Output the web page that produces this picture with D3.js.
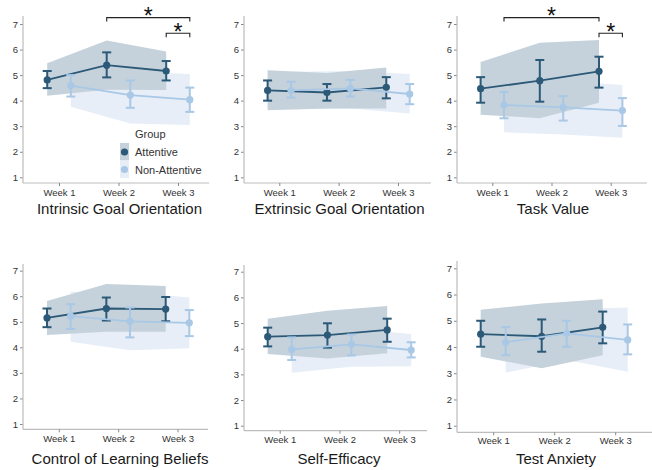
<!DOCTYPE html>
<html><head><meta charset="utf-8">
<script src="https://cdn.jsdelivr.net/npm/d3@7"></script>
<style>body{margin:0;background:#fff}svg{display:block;font-family:"Liberation Sans",Arial,sans-serif}</style>
</head><body><svg id="c" width="652" height="470"></svg>
<script>
// ---- data ----
const panelTitles = ["Intrinsic Goal Orientation","Extrinsic Goal Orientation","Task Value",
  "Control of Learning Beliefs","Self-Efficacy","Test Anxiety"];
const weeks = ["Week 1","Week 2","Week 3"];
const groups = ["Attentive","Non-Attentive"];
const yTicks = [1,2,3,4,5,6,7];

const attMean   = [[4.81,5.39,5.16],[4.40,4.32,4.52],[4.47,4.78,5.15],[5.15,5.52,5.50],[4.47,4.53,4.73],[4.49,4.41,4.75]];
const attErrLo  = [[4.49,4.91,4.79],[4.00,4.00,4.09],[3.92,3.96,4.51],[4.79,5.05,5.02],[4.09,4.04,4.27],[4.01,3.82,4.14]];
const attErrHi  = [[5.16,5.89,5.55],[4.79,4.65,4.92],[4.92,5.59,5.72],[5.52,5.95,5.97],[4.82,4.99,5.17],[5.00,5.05,5.35]];
const attBandLo = [[4.19,4.43,4.42],[3.62,3.69,3.69],[3.45,3.31,3.92],[4.48,4.61,4.61],[3.79,3.62,3.82],[3.63,3.19,3.69]];
const attBandHi = [[5.46,6.35,5.92],[5.19,5.08,5.30],[5.51,6.27,6.37],[5.81,6.48,6.40],[5.17,5.48,5.66],[5.42,5.66,5.82]];

const nonMean   = [[4.59,4.22,4.04],[4.40,4.48,4.26],[3.83,3.74,3.61],[5.22,5.02,4.96],[3.97,4.17,3.95],[4.18,4.52,4.27]];
const nonErrLo  = [[4.16,3.72,3.56],[4.12,4.16,3.86],[3.31,3.22,3.01],[4.72,4.39,4.44],[3.56,3.74,3.66],[3.69,4.01,3.72]];
const nonErrHi  = [[5.00,4.79,4.51],[4.74,4.81,4.65],[4.34,4.18,4.10],[5.69,5.56,5.46],[4.44,4.55,4.25],[4.76,5.00,4.86]];
const nonBandLo = [[3.76,3.11,3.05],[3.66,3.69,3.50],[2.76,2.68,2.55],[4.22,3.89,3.96],[3.06,3.30,3.32],[3.02,3.50,3.06]];
const nonBandHi = [[5.42,5.15,5.04],[5.13,5.16,5.04],[4.85,4.77,4.61],[6.18,6.15,5.95],[4.92,4.79,4.57],[5.38,5.45,5.51]];

// significance brackets: panel, [group, week] from, [group, week] to, height (data units)
const sigPanel = [0,0,2,2];
const sigFrom  = [[0,1],[0,2],[1,0],[0,2]];
const sigTo    = [[1,2],[1,2],[0,2],[1,2]];
const sigLevel = [7.25,6.64,7.25,6.64];
const sigLabel = ["*","*","*","*"];

// ---- layout ----
const layout = [
 {ax:23, axEnd:209, w1:59,    w3:178,   top:16,  bot:183,   y7:24,    y1:177.3, tx:119.5, ty:214, wy:195.5, d:11.8},
 {ax:244,axEnd:431, w1:279.3, w3:398,   top:16,  bot:183,   y7:24,    y1:177.3, tx:339.5, ty:214, wy:195.5, d:11.7},
 {ax:457,axEnd:647, w1:492.3, w3:610.7, top:16,  bot:183,   y7:24,    y1:177.3, tx:553,   ty:214, wy:195.5, d:11.7},
 {ax:23, axEnd:208, w1:58.8,  w3:177.5, top:264, bot:429.3, y7:270.7, y1:424,   tx:120,   ty:464, wy:442,   d:11.8},
 {ax:244,axEnd:427, w1:279.7, w3:399.2, top:265, bot:430.7, y7:271.7, y1:425.7, tx:339,   ty:464, wy:443,   d:12},
 {ax:457,axEnd:652, w1:493.2, w3:615.2, top:261, bot:432.3, y7:268.3, y1:425.7, tx:556,   ty:464, wy:444.5, d:12.5}
];
const darkCol = "#2b5977", lightCol = "#a9c8e6";
const darkBand = "#c5d2db", lightBand = "#e7eef8";
const axisCol = "#bdbdbd", textCol = "#333";

const svg = d3.select("#c");

layout.forEach((L, p) => {
  const g = svg.append("g");
  const x = d3.scaleLinear().domain([0,2]).range([L.w1, L.w3]);
  const y = d3.scaleLinear().domain([1,7]).range([L.y1, L.y7]);
  const off = [-L.d, L.d];
  const xs = gi => (w => x(w) + off[gi]);

  const series = [
    {mean:attMean[p], lo:attErrLo[p], hi:attErrHi[p], bl:attBandLo[p], bh:attBandHi[p], col:darkCol, band:darkBand},
    {mean:nonMean[p], lo:nonErrLo[p], hi:nonErrHi[p], bl:nonBandLo[p], bh:nonBandHi[p], col:lightCol, band:lightBand}
  ];

  // ribbons: light first, dark on top
  [1,0].forEach(gi => {
    const s = series[gi];
    const area = d3.area().x((d,i)=>xs(gi)(i)).y0((d,i)=>y(s.bl[i])).y1((d,i)=>y(s.bh[i]));
    g.append("path").attr("d", area(weeks)).attr("fill", s.band);
  });

  // axes
  const yAxis = d3.axisLeft(y).tickValues(yTicks).tickFormat(d3.format("d")).tickSize(3).tickPadding(2);
  const ya = g.append("g").attr("transform",`translate(${L.ax},0)`).call(yAxis);
  ya.select(".domain").remove();
  ya.selectAll("line").attr("stroke", "#888");
  ya.selectAll("text").attr("fill", textCol).style("font-size","9.5px").style("font-family","'Liberation Sans',Arial,sans-serif");
  g.append("line").attr("x1",L.ax).attr("x2",L.ax).attr("y1",L.top).attr("y2",L.bot).attr("stroke",axisCol).attr("stroke-width",1.2);
  g.append("line").attr("x1",L.ax).attr("x2",L.axEnd).attr("y1",L.bot).attr("y2",L.bot).attr("stroke",axisCol).attr("stroke-width",1.2);
  const xAxis = d3.axisBottom(x).tickValues([0,1,2]).tickFormat(i=>weeks[i]).tickSize(3).tickPadding(2);
  const xa = g.append("g").attr("transform",`translate(0,${L.bot})`).call(xAxis);
  xa.select(".domain").remove();
  xa.selectAll("line").attr("stroke", "#888");
  xa.selectAll("text").attr("fill", textCol).attr("dy",null).attr("y", L.wy - L.bot)
    .style("font-size","9.5px").style("font-family","'Liberation Sans',Arial,sans-serif");

  // title
  g.append("text").attr("x",L.tx).attr("y",L.ty).attr("text-anchor","middle")
    .attr("fill","#1a1a1a").style("font-size","15px").text(panelTitles[p]);

  // lines, error bars, points
  [0,1].forEach(gi => {
    const s = series[gi];
    const line = d3.line().x((d,i)=>xs(gi)(i)).y((d,i)=>y(s.mean[i]));
    g.append("path").attr("d", line(weeks)).attr("fill","none").attr("stroke", s.col).attr("stroke-width",1.8);
    weeks.forEach((w,i) => {
      const cx = xs(gi)(i);
      g.append("line").attr("x1",cx).attr("x2",cx).attr("y1",y(s.lo[i])).attr("y2",y(s.hi[i])).attr("stroke",s.col).attr("stroke-width",2);
      [s.lo[i], s.hi[i]].forEach(v => g.append("line").attr("x1",cx-4.5).attr("x2",cx+4.5).attr("y1",y(v)).attr("y2",y(v)).attr("stroke",s.col).attr("stroke-width",2));
      g.append("circle").attr("cx",cx).attr("cy",y(s.mean[i])).attr("r",3.6).attr("fill",s.col);
    });
  });

  // significance brackets
  sigPanel.forEach((sp, k) => {
    if (sp !== p) return;
    const xa1 = xs(sigFrom[k][0])(sigFrom[k][1]);
    const xa2 = xs(sigTo[k][0])(sigTo[k][1]);
    const yy = y(sigLevel[k]);
    g.append("path").attr("d",`M${xa1},${yy+4}V${yy}H${xa2}V${yy+4}`).attr("fill","none").attr("stroke","#222").attr("stroke-width",1.1);
    g.append("text").attr("x",(xa1+xa2)/2).attr("y",yy+6.5).attr("text-anchor","middle").attr("fill","#111")
      .style("font-size","23px").text(sigLabel[k]);
  });

  // legend (first panel only)
  if (p === 0) {
    const lx = 120, ly = 143;
    g.append("text").attr("x",135).attr("y",138).attr("fill",textCol).style("font-size","11px").text("Group");
    const keyBand = [darkBand, lightBand], keyCol = [darkCol, lightCol];
    groups.forEach((gr, gi) => {
      g.append("rect").attr("x",lx).attr("y",ly + gi*17.5).attr("width",9).attr("height",17.5).attr("fill",keyBand[gi]);
      g.append("circle").attr("cx",lx+4.5).attr("cy",ly + gi*17.5 + 9).attr("r",3.6).attr("fill",keyCol[gi]);
      g.append("text").attr("x",135).attr("y",ly + gi*17.5 + 13).attr("fill",textCol).style("font-size","11px").text(gr);
    });
  }
});
</script></body></html>
